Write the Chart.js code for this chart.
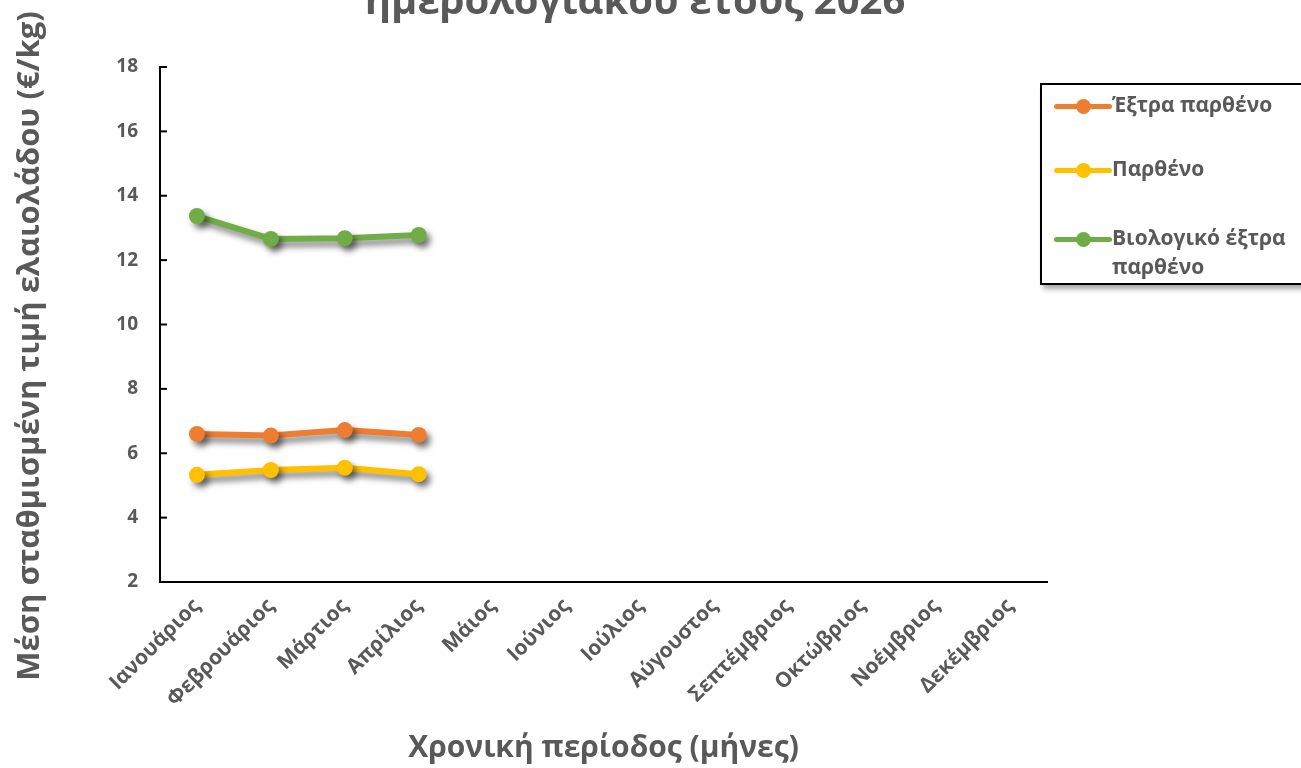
<!DOCTYPE html>
<html lang="el">
<head>
<meta charset="utf-8">
<script src="https://cdn.jsdelivr.net/npm/chart.js@4.4.1/dist/chart.umd.min.js"></script>
<style>
    html, body { margin: 0; padding: 0; background: #fff; overflow: hidden; }
    #wrap { position: relative; width: 1301px; height: 768px; }
    #legend {
        position: absolute; left: 1040px; top: 83px; width: 280px; height: 198px;
        border: 2px solid #000; background: #fff;
        box-shadow: 3px 4px 5px rgba(0,0,0,0.35);
        font-family: "Open Sans", sans-serif; font-weight: bold; font-size: 21px; color: #595959;
    }
    .item { position: absolute; left: 12px; display: flex; align-items: flex-start; }
    .sym { position: relative; width: 58px; height: 5px; margin-top: 13px; border-radius: 3px; }
    .sym span { position: absolute; left: 22px; top: -5px; width: 15px; height: 15px; border-radius: 50%; }
    .txt { line-height: 29px; width: 200px; margin-top: -1px; }
</style>
</head>
<body>
<div id="wrap">
    <canvas id="chart" width="1301" height="768"></canvas>
    <div id="legend"></div>
</div>
<script>
// Δεδομένα
const months = ['Ιανουάριος', 'Φεβρουάριος', 'Μάρτιος', 'Απρίλιος', 'Μάιος', 'Ιούνιος',
    'Ιούλιος', 'Αύγουστος', 'Σεπτέμβριος', 'Οκτώβριος', 'Νοέμβριος', 'Δεκέμβριος'];
const seriesNames = ['Έξτρα παρθένο', 'Παρθένο', 'Βιολογικό έξτρα παρθένο'];
const extraVirgin = [6.60, 6.55, 6.72, 6.57];
const virgin = [5.33, 5.48, 5.55, 5.35];
const organicExtraVirgin = [13.37, 12.66, 12.68, 12.78];
const yTicks = [2, 4, 6, 8, 10, 12, 14, 16, 18];

const titleText = 'ημερολογιακού έτους 2026';
const yTitleText = 'Μέση σταθμισμένη τιμή ελαιολάδου (€/kg)';
const grey = '#595959';
const fontFamily = '"Open Sans", sans-serif';

// Σκιά στις γραμμές
const shadowPlugin = {
    id: 'shadow',
    beforeDatasetsDraw(chart) {
        const c = chart.ctx;
        c.save();
        c.shadowColor = 'rgba(0,0,0,0.5)';
        c.shadowBlur = 6;
        c.shadowOffsetX = 4;
        c.shadowOffsetY = 5;
    },
    afterDatasetsDraw(chart) {
        chart.ctx.restore();
    }
};

// Τίτλοι και εσωτερικές υποδιαιρέσεις
const extrasPlugin = {
    id: 'extras',
    afterDraw(chart) {
        const c = chart.ctx;
        const y = chart.scales.y;
        c.save();
        c.strokeStyle = '#000';
        c.lineWidth = 2;
        yTicks.forEach(v => {
            const py = y.getPixelForValue(v);
            c.beginPath();
            c.moveTo(chart.chartArea.left, py);
            c.lineTo(chart.chartArea.left + 7, py);
            c.stroke();
        });
        c.fillStyle = grey;
        c.textAlign = 'center';
        c.textBaseline = 'alphabetic';
        c.font = 'bold 40px ' + fontFamily;
        c.fillText(titleText, 635, 14);
        c.translate(30, 346);
        c.rotate(-Math.PI / 2);
        c.textBaseline = 'middle';
        c.font = 'bold 31px ' + fontFamily;
        c.fillText(yTitleText, 0, 0);
        c.restore();
    }
};

const ctx = document.getElementById('chart').getContext('2d');
const chart = new Chart(ctx, {
    type: 'line',
    data: {
        labels: months,
        datasets: [
            { label: seriesNames[0], data: extraVirgin, borderColor: '#ED7D31', backgroundColor: '#ED7D31' },
            { label: seriesNames[1], data: virgin, borderColor: '#FFC000', backgroundColor: '#FFC000' },
            { label: seriesNames[2], data: organicExtraVirgin, borderColor: '#70AD47', backgroundColor: '#70AD47' }
        ]
    },
    options: {
        responsive: false,
        animation: false,
        layout: { padding: { top: 67, right: 254, left: 0, bottom: 0 } },
        elements: {
            line: { borderWidth: 6, tension: 0 },
            point: { radius: 8, borderWidth: 0, hoverRadius: 8 }
        },
        plugins: {
            legend: { display: false },
            tooltip: { enabled: false }
        },
        scales: {
            x: {
                offset: true,
                afterFit(scale) { scale.height = 186; },
                grid: { display: false, drawTicks: false },
                border: { display: true, color: '#000', width: 2 },
                ticks: {
                    color: grey, padding: 12, minRotation: 45, maxRotation: 45, autoSkip: false,
                    font: { family: fontFamily, size: 21, weight: 'bold' }
                },
                title: {
                    display: true, text: 'Χρονική περίοδος (μήνες)', color: grey,
                    font: { family: fontFamily, size: 30, weight: 'bold' },
                    padding: { top: 0, bottom: 2 }
                }
            },
            y: {
                min: 2, max: 18,
                afterFit(scale) { scale.width = 160; },
                grid: { display: false, drawTicks: false },
                border: { display: true, color: '#000', width: 2 },
                ticks: {
                    stepSize: 2, color: grey, padding: 22,
                    font: { family: fontFamily, size: 19, weight: 'bold' }
                }
            }
        }
    },
    plugins: [shadowPlugin, extrasPlugin]
});

// Υπόμνημα από τα σύνολα δεδομένων
const legendEl = document.getElementById('legend');
const rowTops = [6, 70, 139];
chart.data.datasets.forEach((ds, i) => {
    const item = document.createElement('div');
    item.className = 'item';
    item.style.top = rowTops[i] + 'px';
    item.innerHTML = `<div class="sym" style="background:${ds.borderColor}"><span style="background:${ds.borderColor}"></span></div>
        <div class="txt">${ds.label}</div>`;
    legendEl.appendChild(item);
});
</script>
</body>
</html>
